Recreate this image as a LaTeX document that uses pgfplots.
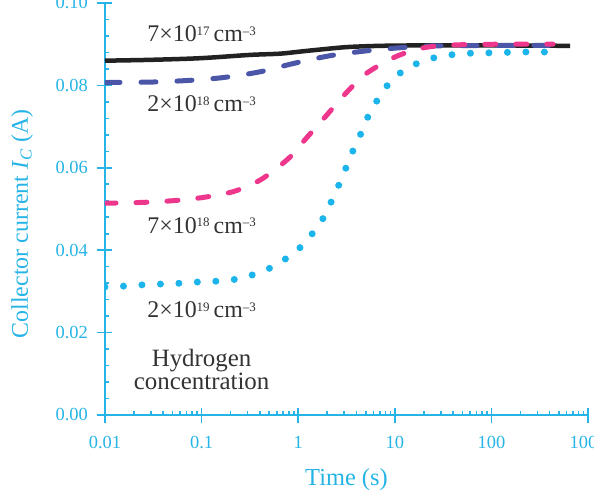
\documentclass[border=0pt]{standalone}
\usepackage{fontspec}
\setmainfont{Liberation Serif}
\usepackage{pgfplots}
\pgfplotsset{compat=1.18}
\definecolor{axcol}{RGB}{38,180,230}
\definecolor{dotcol}{RGB}{27,180,235}
\definecolor{bluecol}{RGB}{75,86,168}
\definecolor{pinkcol}{RGB}{238,55,140}
\definecolor{blackcol}{RGB}{34,34,34}
\definecolor{txtcol}{RGB}{51,51,51}
\newcommand{\sups}[1]{\raisebox{6.5bp}{\fontsize{13}{14}\selectfont #1}}
\newcommand{\conc}[2]{#1×10\sups{#2}\,cm\sups{–3}}
\begin{document}
\begin{tikzpicture}
\begin{axis}[
 scale only axis, width=483bp, height=412bp,
 xmode=log, xmin=0.01, xmax=1000, ymin=0, ymax=0.1,
 axis lines=left, axis line style={-, axcol, line width=1.6bp},
 xtick={0.01,0.1,1,10,100,1000},
 xticklabels={0.01,0.1,1,10,100,1000},
 minor xtick={0.02,0.03,0.04,0.05,0.06,0.07,0.08,0.09,0.2,0.3,0.4,0.5,0.6,0.7,0.8,0.9,2,3,4,5,6,7,8,9,20,30,40,50,60,70,80,90,200,300,400,500,600,700,800,900},
 ytick={0,0.02,0.04,0.06,0.08,0.1},
 yticklabels={0.00,0.02,0.04,0.06,0.08,0.10},
 minor ytick={0.004,0.008,0.012,0.016,0.024,0.028,0.032,0.036,0.044,0.048,0.052,0.056,0.064,0.068,0.072,0.076,0.084,0.088,0.092,0.096},
 tick align=inside,
 major tick length=7bp, minor tick length=4.5bp,
 tick style={axcol, line width=1.6bp},
 extra x ticks={0.01,0.1,1,10,100,1000}, extra x tick labels={},
 extra y ticks={0,0.02,0.04,0.06,0.08,0.1}, extra y tick labels={},
 extra tick style={tick align=outside, major tick length=8bp},
 tick label style={font=\fontsize{18.5}{20}\selectfont, text=axcol},
 xticklabel style={anchor=base, inner sep=0pt, yshift=-33bp},
 yticklabel style={anchor=east, inner sep=0pt, xshift=-17bp},
 xlabel={Time (s)}, ylabel={Collector current \textit{I}\textsubscript{\textit{C}} (A)},
 label style={text=axcol},
 xlabel style={font=\fontsize{24.5}{26}\selectfont, at={(axis description cs:0.5,0)}, anchor=base, yshift=-70bp},
 ylabel style={font=\fontsize{24}{26}\selectfont, at={([xshift=-77bp]axis description cs:0,0.4636)}, anchor=base},
]
\addplot[dotcol, line width=7bp, line cap=round, dash pattern=on 0bp off 18.5bp, smooth] coordinates {
(0.01,0.0311) (0.0161,0.0313) (0.0247,0.0316) (0.0389,0.0318) (0.0612,0.0320) (0.094,0.0323) (0.1478,0.0325) (0.2325,0.0330) (0.357,0.0342) (0.5356,0.0359) (0.784,0.0383) (1.121,0.0413) (1.493,0.0449) (1.894,0.0485) (2.292,0.0527) (2.709,0.0565) (3.277,0.0612) (3.873,0.0653) (4.688,0.0694) (5.537,0.0735) (7.029,0.0774) (9.135,0.0811) (13.06,0.0840) (19.58,0.0859) (30.09,0.0871) (46.19,0.0876) (72.66,0.0879) (114.3,0.0879) (175.5,0.0881) (276,0.0881) (434,0.0881)
};
\addplot[blackcol, line width=4.5bp, smooth] coordinates {
(0.01,0.0860) (0.0292,0.0862) (0.0962,0.0866) (0.317,0.0874) (0.648,0.0877) (1.04,0.0882) (1.68,0.0887) (3.20,0.0893) (7.03,0.0896) (18.2,0.0897) (123,0.0897) (652,0.0896)
};
\addplot[bluecol, line width=5bp, line cap=round, dash pattern=on 15bp off 21bp, smooth] coordinates {
(0.01,0.0807) (0.0292,0.0808) (0.0723,0.0812) (0.1665,0.0819) (0.402,0.0833) (0.884,0.0853) (2.13,0.0872) (5.15,0.0884) (12.2,0.0892) (27.4,0.0896) (123,0.0897) (455,0.0897)
};
\addplot[pinkcol, line width=5bp, line cap=round, dash pattern=on 11bp off 20bp, smooth] coordinates {
(0.01,0.0514) (0.0242,0.0516) (0.0494,0.0520) (0.1034,0.0528) (0.2114,0.0542) (0.3745,0.0566) (0.5356,0.0590) (0.8225,0.0626) (1.095,0.0660) (1.894,0.0723) (3.20,0.0784) (5.15,0.0830) (10.05,0.0869) (19.6,0.0891) (40.0,0.0898) (123,0.0900) (434,0.0900)
};
\node[anchor=base, text=txtcol, font=\fontsize{24}{26}\selectfont] at (axis cs:0.1,0.0906) {\conc{7}{17}};
\node[anchor=base, text=txtcol, font=\fontsize{24}{26}\selectfont] at (axis cs:0.1,0.0736) {\conc{2}{18}};
\node[anchor=base, text=txtcol, font=\fontsize{24}{26}\selectfont] at (axis cs:0.1,0.0441) {\conc{7}{18}};
\node[anchor=base, text=txtcol, font=\fontsize{24}{26}\selectfont] at (axis cs:0.1,0.0236) {\conc{2}{19}};
\node[anchor=base, text=txtcol, font=\fontsize{25}{27}\selectfont] at (axis cs:0.1,0.01172) {Hydrogen};
\node[anchor=base, text=txtcol, font=\fontsize{25}{27}\selectfont] at (axis cs:0.1,0.0063) {concentration};
\end{axis}
\pgfresetboundingbox
\useasboundingbox (-105bp,-82bp) rectangle (489bp,415bp);
\end{tikzpicture}
\end{document}
